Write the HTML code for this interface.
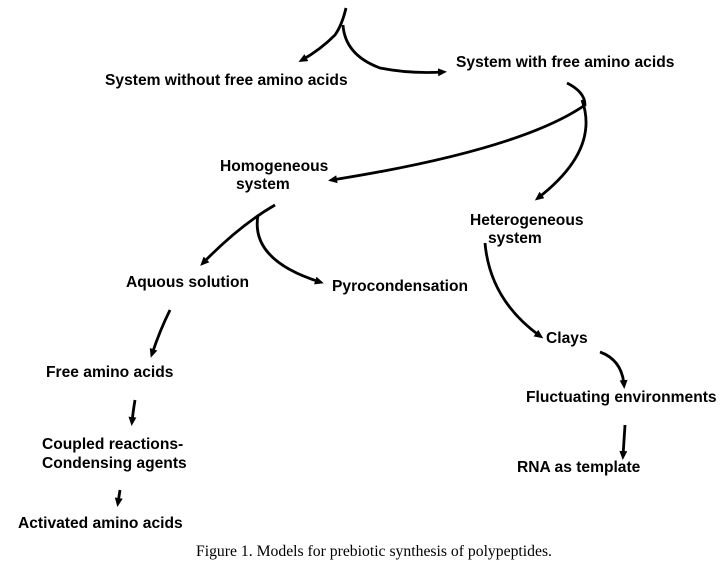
<!DOCTYPE html>
<html><head><meta charset="utf-8"><style>
body{margin:0;background:#fff;width:724px;height:568px;overflow:hidden}
svg{position:absolute;left:0;top:0}
text{font-family:"Liberation Sans",sans-serif;font-weight:bold;font-size:15.6px;fill:#000}
</style></head><body>
<svg width="724" height="568" viewBox="0 0 724 568">
<defs><marker id="a" markerWidth="9" markerHeight="8" refX="5" refY="4" orient="auto" markerUnits="userSpaceOnUse"><path d="M0,0 L9,4 L0,8 z" fill="#000"/></marker></defs>
<g fill="none" stroke="#000" stroke-width="2.8" marker-end="url(#a)">
<path d="M346,8 Q342,25 335,35 Q320,50 302,60"/>
<path d="M343,25 Q345,55 380,68 Q410,74 443,72"/>
<path d="M567,83 Q585,92 585,105 Q520,150 332,180"/>
<path d="M582,100 Q600,150 538,198"/>
<path d="M275,205 Q240,225 203,263"/>
<path d="M258,215 Q250,260 320,282"/>
<path d="M170,310 Q160,330 152,354"/>
<path d="M135,400 Q133,412 132,422"/>
<path d="M120,490 L118,503"/>
<path d="M485,243 Q490,300 540,336"/>
<path d="M600,352 Q622,360 624,385"/>
<path d="M625,425 L623,456"/>
</g>
<text x="105" y="85">System without free amino acids</text>
<text x="456" y="67">System with free amino acids</text>
<text x="220" y="171">Homogeneous</text>
<text x="236" y="189">system</text>
<text x="470" y="225">Heterogeneous</text>
<text x="488" y="243">system</text>
<text x="126" y="287">Aquous solution</text>
<text x="332" y="291">Pyrocondensation</text>
<text x="546" y="343">Clays</text>
<text x="46" y="377">Free amino acids</text>
<text x="526" y="402">Fluctuating environments</text>
<text x="42" y="449">Coupled reactions-</text>
<text x="42" y="468">Condensing agents</text>
<text x="517" y="472">RNA as template</text>
<text x="18" y="528">Activated amino acids</text>
<text x="196" y="556" style="font-family:'Liberation Serif',serif;font-weight:normal;font-size:15.7px">Figure 1. Models for prebiotic synthesis of polypeptides.</text>
</svg>
</body></html>
